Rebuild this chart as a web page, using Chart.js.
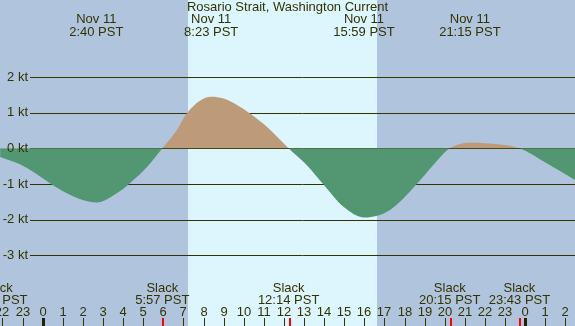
<!DOCTYPE html>
<html lang="en">
<head>
    <meta charset="UTF-8">
    <title>Rosario Strait, Washington Current</title>
    <script src="https://cdn.jsdelivr.net/npm/chart.js"></script>
    <style>
        body { margin: 0; background: #b0c4de; }
        canvas { display: block; }
    </style>
</head>
<body>
    <canvas id="currentChart" width="575" height="326"></canvas>

    <script>
        // hours since midnight Nov 11 (negative = Nov 10), current in knots
        const hours = [-2.12, -1.13, -0.48, 0.36, 1.2, 2.0, 2.67, 3.69, 4.34, 5.2, 5.95,
                       6.67, 7.23, 8.38, 9.0, 9.6, 10.31, 11.14, 12.23,
                       13.13, 13.96, 14.96, 16.0, 17.28, 18.6, 19.43, 20.25,
                       21.25, 22.75, 23.72, 25.07, 26.48];
        const knots = [-0.24, -0.45, -0.66, -0.98, -1.26, -1.45, -1.52, -1.26, -0.98, -0.52, 0,
                       0.51, 1.03, 1.45, 1.40, 1.24, 0.98, 0.61, 0,
                       -0.47, -1.01, -1.64, -1.94, -1.73, -1.01, -0.47, 0,
                       0.16, 0.11, 0, -0.42, -0.89];

        const peakHours = [2.667, 8.383, 15.983, 21.25];
        const peakLabels = ["2:40 PST", "8:23 PST", "15:59 PST", "21:15 PST"];
        const slackHours = [-2.283, 5.95, 12.233, 20.25, 23.717];
        const slackLabels = ["21:43 PST", "5:57 PST", "12:14 PST", "20:15 PST", "23:43 PST"];

        const ktTicks = [2, 1, 0, -1, -2, -3];
        const hourTicks = [-2, -1, 0, 1, 2, 3, 4, 5, 6, 7, 8, 9, 10, 11, 12, 13, 14, 15, 16,
                           17, 18, 19, 20, 21, 22, 23, 24, 25, 26];
        const sunrise = 7.23, sunset = 16.63;

        const textColor = "#333300";
        const font = "13px 'Liberation Sans', Arial, sans-serif";

        const backdrop = {
            id: "backdrop",
            beforeDraw(chart) {
                const { ctx, scales: { x, y }, width, height } = chart;
                ctx.save();
                ctx.fillStyle = "#b0c4de";
                ctx.fillRect(0, 0, width, height);
                ctx.fillStyle = "#ddf6fe";
                const x1 = x.getPixelForValue(sunrise), x2 = x.getPixelForValue(sunset);
                ctx.fillRect(Math.round(x1), 0, Math.round(x2) - Math.round(x1), height);
                ctx.strokeStyle = textColor;
                ctx.lineWidth = 1;
                ktTicks.forEach(v => {
                    const py = Math.round(y.getPixelForValue(v)) + 0.5;
                    ctx.beginPath();
                    ctx.moveTo(30, py);
                    ctx.lineTo(width, py);
                    ctx.stroke();
                });
                ctx.restore();
            },
            afterDatasetsDraw(chart) {
                const { ctx, scales: { x, y }, width, height } = chart;
                ctx.save();
                ctx.font = font;
                ctx.fillStyle = textColor;
                ctx.textBaseline = "middle";

                ctx.textAlign = "right";
                ktTicks.forEach(v => ctx.fillText(v + " kt", 28, y.getPixelForValue(v)));

                ctx.textAlign = "center";
                ctx.fillText("Rosario Strait, Washington Current", width / 2, 7);
                peakHours.forEach((h, i) => {
                    const px = x.getPixelForValue(h);
                    ctx.fillText("Nov 11", px, 19);
                    ctx.fillText(peakLabels[i], px, 32);
                });
                slackHours.forEach((h, i) => {
                    const px = x.getPixelForValue(h);
                    ctx.fillText("Slack", px, 288);
                    ctx.fillText(slackLabels[i], px, 300);
                });
                hourTicks.forEach(h => {
                    const px = Math.round(x.getPixelForValue(h));
                    const label = ((h % 24) + 24) % 24;
                    ctx.fillStyle = textColor;
                    ctx.fillText(String(label), px, 312);
                    if (label === 0) {
                        ctx.fillStyle = "#222200";
                        ctx.fillRect(px - 1, 318, 3, height - 318);
                    } else {
                        ctx.fillRect(px, 318, 1, height - 318);
                    }
                });
                ctx.fillStyle = "#ff0000";
                slackHours.forEach(h => {
                    const px = Math.round(x.getPixelForValue(h));
                    ctx.fillRect(px, 318, 2, height - 318);
                });
                ctx.restore();
            }
        };

        new Chart(document.getElementById("currentChart"), {
            type: "line",
            data: {
                datasets: [{
                    data: hours.map((h, i) => ({ x: h, y: knots[i] })),
                    borderWidth: 0,
                    borderColor: "rgba(0,0,0,0)",
                    pointRadius: 0,
                    cubicInterpolationMode: "monotone",
                    fill: { target: "origin", above: "#bd9b79", below: "#529672" }
                }]
            },
            options: {
                responsive: false,
                animation: false,
                layout: { padding: 0 },
                plugins: { legend: { display: false }, tooltip: { enabled: false } },
                scales: {
                    x: { type: "linear", display: false, min: -2.124, max: 26.48 },
                    y: { display: false, min: -4.99, max: 4.166 }
                }
            },
            plugins: [backdrop]
        });
    </script>
</body>
</html>
